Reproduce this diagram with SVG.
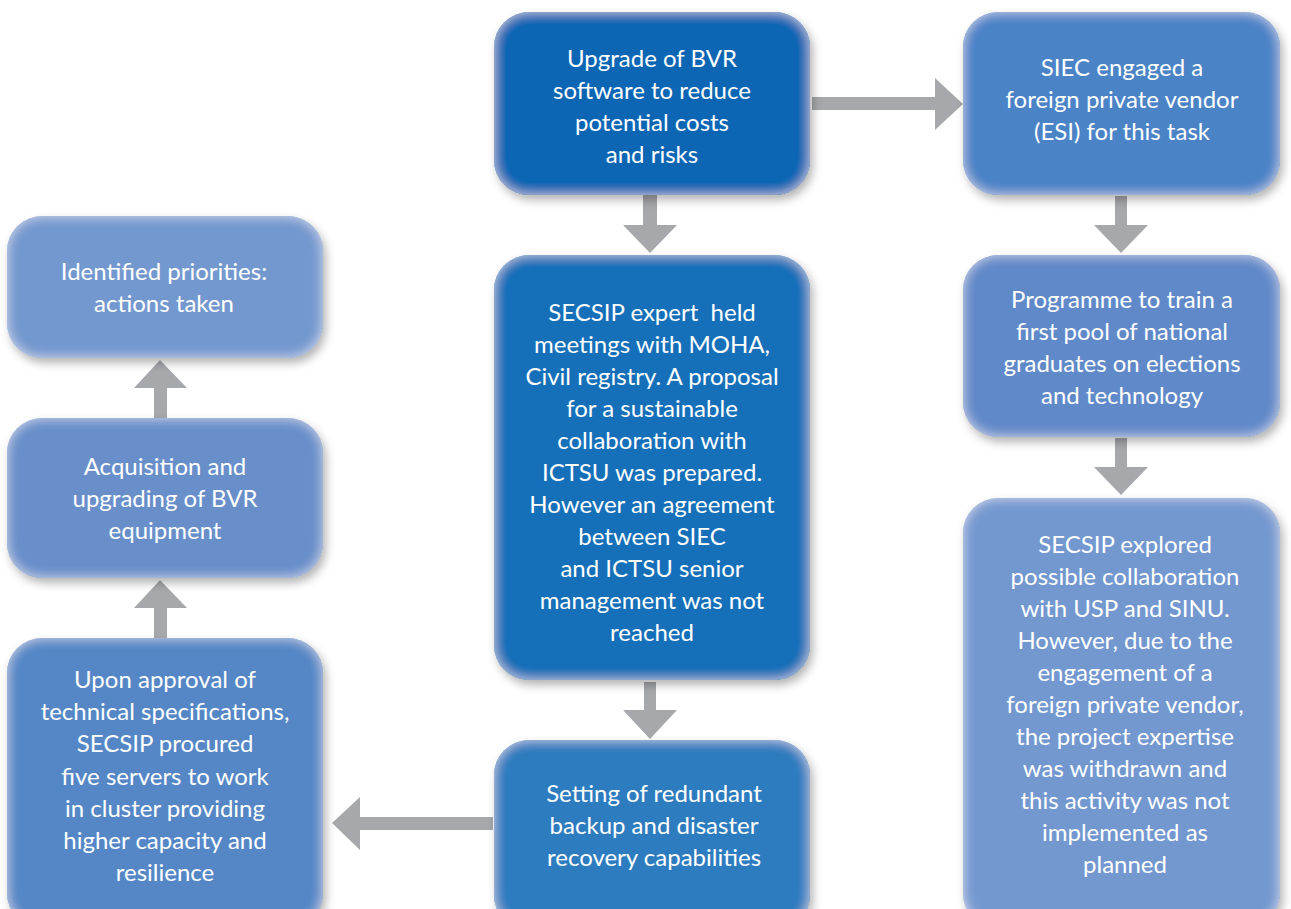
<svg xmlns="http://www.w3.org/2000/svg" width="1291" height="909" viewBox="0 0 1291 909">
<defs>
<filter id="box" x="-10%" y="-10%" width="125%" height="125%">
<feGaussianBlur in="SourceAlpha" stdDeviation="6" result="b"/>
<feComposite in="SourceAlpha" in2="b" operator="arithmetic" k2="1" k3="-1" result="edge"/>
<feFlood flood-color="#ffffff" flood-opacity="0.55"/>
<feComposite in2="edge" operator="in" result="glow"/>
<feOffset in="SourceAlpha" dx="3" dy="5" result="off"/>
<feGaussianBlur in="off" stdDeviation="5" result="sb"/>
<feFlood flood-color="#000000" flood-opacity="0.3"/>
<feComposite in2="sb" operator="in" result="shadow"/>
<feMerge><feMergeNode in="shadow"/><feMergeNode in="SourceGraphic"/><feMergeNode in="glow"/></feMerge>
</filter>
</defs>
<style>
.bx{filter:url(#box);}
.t{font-family:Lato,"Open Sans","Liberation Sans",sans-serif;font-size:24px;fill:#ffffff;text-anchor:middle;}
.ar{fill:#a7a8ab;}
</style>
<rect width="1291" height="909" fill="#ffffff"/>

<g id="connectors">
<polygon class="ar" points="812,97 935,97 935,78 963,104 935,130 935,110 812,110"/>
<polygon class="ar" points="643,195 657,195 657,225 677,225 650,253 623,225 643,225"/>
<polygon class="ar" points="644,682 656,682 656,710 677,710 650,739 623,710 644,710"/>
<polygon class="ar" points="493,817 360,817 360,797 332,823 360,850 360,830 493,830"/>
<polygon class="ar" points="1115,196 1127,196 1127,225 1148,225 1121,253 1094,225 1115,225"/>
<polygon class="ar" points="1115,438 1127,438 1127,467 1148,467 1121,495 1094,467 1115,467"/>
<polygon class="ar" points="154,638 167,638 167,608 187,608 160,580 134,608 154,608"/>
<polygon class="ar" points="154,418 167,418 167,388 187,388 160,360 134,388 154,388"/>
</g>

<g id="node-upgrade">
<rect class="bx" x="494" y="12" width="316" height="183" rx="35" fill="#0866b4"/>
<text class="t" x="652" y="67">Upgrade of BVR</text>
<text class="t" x="652" y="99">software to reduce</text>
<text class="t" x="652" y="131">potential costs</text>
<text class="t" x="652" y="163">and risks</text>
</g>

<g id="node-secsip-expert">
<rect class="bx" x="494" y="255" width="316" height="425" rx="35" fill="#1670b9"/>
<text class="t" x="652" y="321" xml:space="preserve">SECSIP expert  held</text>
<text class="t" x="652" y="353">meetings with MOHA,</text>
<text class="t" x="652" y="385">Civil registry. A proposal</text>
<text class="t" x="652" y="417">for a sustainable</text>
<text class="t" x="652" y="449">collaboration with</text>
<text class="t" x="652" y="481">ICTSU was prepared.</text>
<text class="t" x="652" y="513">However an agreement</text>
<text class="t" x="652" y="545">between SIEC</text>
<text class="t" x="652" y="577">and ICTSU senior</text>
<text class="t" x="652" y="609">management was not</text>
<text class="t" x="652" y="641">reached</text>
</g>

<g id="node-setting">
<rect class="bx" x="494" y="740" width="316" height="190" rx="35" fill="#2e7bc0"/>
<text class="t" x="654" y="802">Setting of redundant</text>
<text class="t" x="654" y="834">backup and disaster</text>
<text class="t" x="654" y="866">recovery capabilities</text>
</g>

<g id="node-siec">
<rect class="bx" x="963" y="12" width="317" height="183" rx="35" fill="#4b83c7"/>
<text class="t" x="1122" y="76">SIEC engaged a</text>
<text class="t" x="1122" y="108">foreign private vendor</text>
<text class="t" x="1122" y="140">(ESI) for this task</text>
</g>

<g id="node-programme">
<rect class="bx" x="963" y="255" width="317" height="182" rx="35" fill="#6189c9"/>
<text class="t" x="1122" y="308">Programme to train a</text>
<text class="t" x="1122" y="340">first pool of national</text>
<text class="t" x="1122" y="372">graduates on elections</text>
<text class="t" x="1122" y="404">and technology</text>
</g>

<g id="node-secsip-explored">
<rect class="bx" x="963" y="498" width="317" height="430" rx="35" fill="#7398d0"/>
<text class="t" x="1125" y="553">SECSIP explored</text>
<text class="t" x="1125" y="585">possible collaboration</text>
<text class="t" x="1125" y="617">with USP and SINU.</text>
<text class="t" x="1125" y="649">However, due to the</text>
<text class="t" x="1125" y="681">engagement of a</text>
<text class="t" x="1125" y="713">foreign private vendor,</text>
<text class="t" x="1125" y="745">the project expertise</text>
<text class="t" x="1125" y="777">was withdrawn and</text>
<text class="t" x="1125" y="809">this activity was not</text>
<text class="t" x="1125" y="841">implemented as</text>
<text class="t" x="1125" y="873">planned</text>
</g>

<g id="node-identified">
<rect class="bx" x="7" y="216" width="316" height="142" rx="35" fill="#7398cf"/>
<text class="t" x="164" y="280">Identified priorities:</text>
<text class="t" x="164" y="312">actions taken</text>
</g>

<g id="node-acquisition">
<rect class="bx" x="7" y="418" width="316" height="160" rx="35" fill="#678fca"/>
<text class="t" x="165" y="475">Acquisition and</text>
<text class="t" x="165" y="507">upgrading of BVR</text>
<text class="t" x="165" y="539">equipment</text>
</g>

<g id="node-upon">
<rect class="bx" x="7" y="638" width="316" height="290" rx="35" fill="#5587c6"/>
<text class="t" x="165" y="688">Upon approval of</text>
<text class="t" x="165" y="720">technical specifications,</text>
<text class="t" x="165" y="752">SECSIP procured</text>
<text class="t" x="165" y="785">five servers to work</text>
<text class="t" x="165" y="817">in cluster providing</text>
<text class="t" x="165" y="849">higher capacity and</text>
<text class="t" x="165" y="881">resilience</text>
</g>
</svg>
